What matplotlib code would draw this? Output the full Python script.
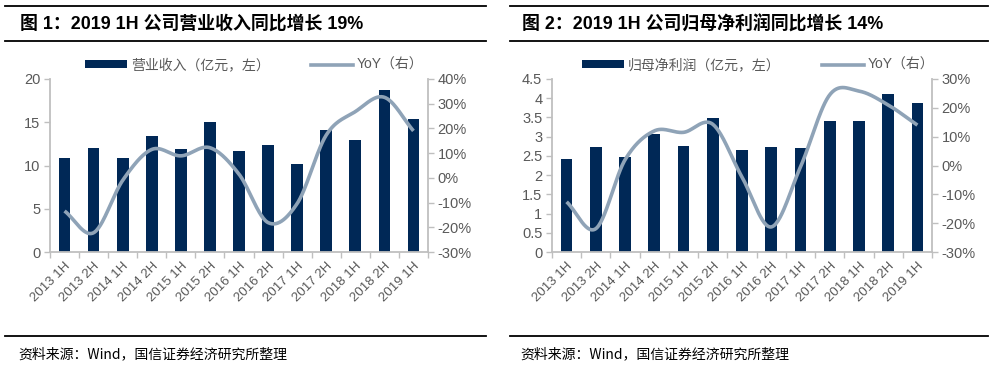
import numpy as np
import matplotlib
matplotlib.use("Agg")
import matplotlib.pyplot as plt
from matplotlib.lines import Line2D
from matplotlib.patches import Patch
from matplotlib.ticker import FuncFormatter, MultipleLocator, FixedLocator

plt.rcParams['font.family'] = ['Liberation Sans', 'Noto Sans CJK SC', 'DejaVu Sans']

categories = ["2013 1H", "2013 2H", "2014 1H", "2014 2H", "2015 1H", "2015 2H",
              "2016 1H", "2016 2H", "2017 1H", "2017 2H", "2018 1H", "2018 2H", "2019 1H"]

revenue = [10.85, 12.0, 10.85, 13.4, 11.9, 15.0, 11.66, 12.36, 10.15, 14.1, 12.93, 18.7, 15.37]
revenue_yoy = [-13.4, -22.2, -1.0, 11.5, 8.9, 12.2, 1.5, -18.1, -10.4, 17.3, 26.8, 32.6, 19.0]

profit = [2.415, 2.73, 2.47, 3.07, 2.75, 3.48, 2.65, 2.73, 2.70, 3.41, 3.41, 4.11, 3.87]
profit_yoy = [-12.6, -21.9, 2.0, 12.0, 11.5, 14.3, -4.0, -21.3, -0.5, 24.5, 25.8, 21.0, 14.0]

title1 = "图 1：2019 1H 公司营业收入同比增长 19%"
title2 = "图 2：2019 1H 公司归母净利润同比增长 14%"
legend_bar1 = "营业收入（亿元，左）"
legend_bar2 = "归母净利润（亿元，左）"
legend_line = "YoY（右）"
source = "资料来源：Wind，国信证券经济研究所整理"

BAR = "#002856"
LINE = "#8FA3B7"
AX = "#BFBFBF"
TXT = "#595959"


def catmull_rom(y, n=30):
    y = np.asarray(y, float)
    p = np.concatenate([[2 * y[0] - y[1]], y, [2 * y[-1] - y[-2]]])
    xs, ys = [], []
    for i in range(len(y) - 1):
        p0, p1, p2, p3 = p[i], p[i + 1], p[i + 2], p[i + 3]
        t = np.linspace(0, 1, n, endpoint=(i == len(y) - 2))
        yy = 0.5 * ((2 * p1) + (-p0 + p2) * t + (2 * p0 - 5 * p1 + 4 * p2 - p3) * t ** 2
                    + (-p0 + 3 * p1 - 3 * p2 + p3) * t ** 3)
        xs.append(i + t)
        ys.append(yy)
    return np.concatenate(xs), np.concatenate(ys)


fig = plt.figure(figsize=(9.98, 3.67), dpi=100)


def px_line(x0, x1, y):
    fig.add_artist(Line2D([x0 / 998, x1 / 998], [1 - y / 367, 1 - y / 367],
                          color="black", lw=1.3, transform=fig.transFigure))


def panel(left_px, right_px, bars, yoy, ymax, ystep, ylab_fmt, r_lo, r_hi,
          title, title_x, legend_bar, leg_bar_x, line_x0, line_x1):
    ax = fig.add_axes([left_px / 998, 1 - 252 / 367, (right_px - left_px) / 998, 173 / 367])
    x = np.arange(len(categories))
    ax.bar(x, bars, width=0.4, color=BAR, zorder=2)
    ax.set_xlim(-0.5, len(categories) - 0.5)
    ax.set_ylim(0, ymax)
    ax.yaxis.set_major_locator(MultipleLocator(ystep))
    ax.yaxis.set_major_formatter(FuncFormatter(ylab_fmt))
    ax.set_xticks(x)
    ax.set_xticklabels(categories, rotation=45, ha='right', rotation_mode='anchor',
                       fontsize=9.5, color=TXT)
    ax.xaxis.set_minor_locator(FixedLocator(np.arange(-0.5, len(categories), 1.0)))
    ax.tick_params(axis='x', which='major', length=0, pad=6)
    ax.tick_params(axis='x', which='minor', length=4, color=AX, width=1)
    ax.tick_params(axis='y', length=4, color=AX, width=1, labelsize=10.5, labelcolor=TXT, pad=3)
    for s in ['top', 'right']:
        ax.spines[s].set_visible(False)
    for s in ['left', 'bottom']:
        ax.spines[s].set_color(AX)
        ax.spines[s].set_linewidth(1.3)

    ax2 = ax.twinx()
    xs, ys = catmull_rom(yoy)
    ax2.plot(xs, ys, color=LINE, lw=2.6, solid_capstyle='butt', zorder=3)
    ax2.set_ylim(r_lo, r_hi)
    ax2.yaxis.set_major_locator(MultipleLocator(10))
    ax2.yaxis.set_major_formatter(FuncFormatter(lambda v, p: f"{v:.0f}%"))
    ax2.tick_params(axis='y', length=4, color=AX, width=1, labelsize=10.5, labelcolor=TXT, pad=3)
    for s in ['top', 'left', 'bottom']:
        ax2.spines[s].set_visible(False)
    ax2.spines['right'].set_color(AX)
    ax2.spines['right'].set_linewidth(1.3)

    # title & rules
    px_line(line_x0, line_x1, 6)
    px_line(line_x0, line_x1, 41)
    px_line(line_x0, line_x1, 336)
    fig.text(title_x / 998, 1 - 24 / 367, title, fontsize=12.9, fontweight='bold',
             va='center', ha='left', color='black')
    fig.text((title_x - 2) / 998, 1 - 354 / 367, source, fontsize=10,
             family=['Noto Sans CJK SC', 'DejaVu Sans'], va='center', ha='left', color='black')

    # legend
    handles = [Patch(facecolor=BAR, edgecolor='none'),
               Line2D([0], [0], color=LINE, lw=2.6)]
    leg = fig.legend(handles, [legend_bar, legend_line], ncol=2,
                     loc='center left', bbox_to_anchor=(leg_bar_x / 998, 1 - 65 / 367),
                     frameon=False, fontsize=10, handlelength=3.0, handleheight=0.45,
                     handletextpad=0.3, columnspacing=3.0, borderpad=0, borderaxespad=0)
    for t in leg.get_texts():
        t.set_color(TXT)
        t.set_family(['Liberation Sans', 'Noto Sans CJK SC'])
    return ax


panel(50, 428, revenue, revenue_yoy, 20, 5, lambda v, p: f"{v:.0f}", -30, 40,
      title1, 20, legend_bar1, 85, 5, 486)
panel(552, 932, profit, profit_yoy, 4.5, 0.5, lambda v, p: f"{v:g}", -30, 30,
      title2, 522, legend_bar2, 582, 510, 988)

fig.savefig("out.png", dpi=100)
